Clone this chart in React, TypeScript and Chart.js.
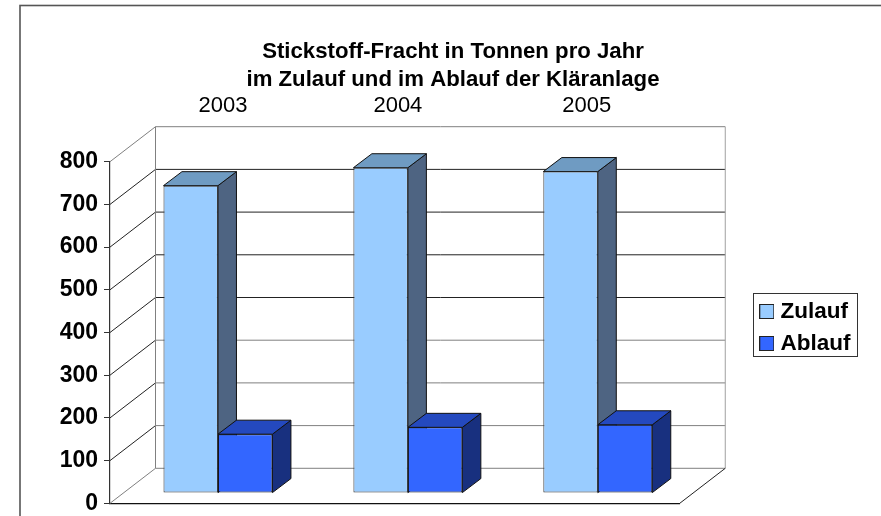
import React, { useEffect, useRef } from "react";
import { Chart, registerables } from "chart.js";

Chart.register(...registerables);

const titleLines = ["Stickstoff-Fracht in Tonnen pro Jahr", "im Zulauf und im Ablauf der Kläranlage"];
const years = ["2003", "2004", "2005"];
const zulauf = [720, 762, 753];
const ablauf = [138, 154, 160];
const yearNudge = [18, 3, 2];

const FONT = "'Liberation Sans', Arial, sans-serif";
const WALL = { dx: 45.5, dy: -35 };
const BAR_DEPTH = { dx: 18.5, dy: -14 };
const BAR_SHIFT = { dx: 13, dy: -10.2 };

const faceColors = [
  { top: "#6F9BC2", side: "#4E6482" },
  { top: "#2449BF", side: "#18307F" },
];

function swatch(color: string) {
  const c = document.createElement("canvas");
  c.width = 15;
  c.height = 15;
  const g = c.getContext("2d")!;
  g.fillStyle = color;
  g.fillRect(0.5, 0.5, 14, 14);
  g.strokeStyle = "#222";
  g.lineWidth = 1;
  g.strokeRect(0.5, 0.5, 14, 14);
  return c;
}

function line(ctx: CanvasRenderingContext2D, x1: number, y1: number, x2: number, y2: number, color: string) {
  ctx.strokeStyle = color;
  ctx.lineWidth = 1;
  ctx.beginPath();
  ctx.moveTo(x1, y1);
  ctx.lineTo(x2, y2);
  ctx.stroke();
}

function poly(ctx: CanvasRenderingContext2D, pts: number[][], fill: string) {
  ctx.fillStyle = fill;
  ctx.strokeStyle = "#111";
  ctx.lineWidth = 1;
  ctx.beginPath();
  pts.forEach((p, i) => (i ? ctx.lineTo(p[0], p[1]) : ctx.moveTo(p[0], p[1])));
  ctx.closePath();
  ctx.fill();
  ctx.stroke();
}

const scene3d = {
  id: "scene3d",
  afterLayout(chart: any) {
    const lg = chart.legend;
    lg.top -= 5;
    lg.bottom -= 5;
  },
  beforeDraw(chart: any) {
    const { ctx, width, height } = chart;
    ctx.save();
    ctx.fillStyle = "#fff";
    ctx.fillRect(0, 0, width, height);
    ctx.strokeStyle = "#555";
    ctx.lineWidth = 1.6;
    ctx.strokeRect(20, 5.5, width + 40, height + 40);
    ctx.restore();
  },
  beforeDatasetsDraw(chart: any) {
    const { ctx, chartArea: a, scales } = chart;
    const yS = scales.y;
    ctx.save();
    yS.ticks.forEach((t: any) => {
      const y = yS.getPixelForValue(t.value);
      const dark = t.value > 0 && t.value < 800;
      line(ctx, a.left, y, a.left + WALL.dx, y + WALL.dy, dark ? "#222" : "#808080");
      line(ctx, a.left + WALL.dx, y + WALL.dy, a.right + WALL.dx, y + WALL.dy, t.value >= 400 && t.value < 800 ? "#222" : "#808080");
    });
    line(ctx, a.left + WALL.dx, a.top + WALL.dy, a.left + WALL.dx, a.bottom + WALL.dy, "#808080");
    line(ctx, a.right + WALL.dx, a.top + WALL.dy, a.right + WALL.dx, a.bottom + WALL.dy, "#a0a0a0");
    line(ctx, a.right, a.bottom, a.right + WALL.dx, a.bottom + WALL.dy, "#222");

    ctx.translate(BAR_SHIFT.dx, BAR_SHIFT.dy);
    [0, 1].forEach((di) => {
      chart.getDatasetMeta(di).data.forEach((bar: any) => {
        const { x, y, base, width } = bar.getProps(["x", "y", "base", "width"], true);
        const l = x - width / 2;
        const r = x + width / 2;
        const d = BAR_DEPTH;
        poly(ctx, [[r, y], [r + d.dx, y + d.dy], [r + d.dx, base + d.dy], [r, base]], faceColors[di].side);
        poly(ctx, [[l, y], [l + d.dx, y + d.dy], [r + d.dx, y + d.dy], [r, y]], faceColors[di].top);
      });
    });
    ctx.restore();
    // the bar fronts stand on the same mid-depth plane
    ctx.save();
    ctx.translate(BAR_SHIFT.dx, BAR_SHIFT.dy);
  },
  afterDatasetsDraw(chart: any) {
    const { ctx, scales } = chart;
    ctx.restore();
    ctx.save();
    ctx.fillStyle = "#000";
    ctx.font = `22px ${FONT}`;
    ctx.textAlign = "center";
    ctx.textBaseline = "middle";
    years.forEach((label, i) => {
      ctx.fillText(label, scales.x.getPixelForValue(i) + yearNudge[i], 106);
    });
    ctx.restore();
  },
  afterDraw(chart: any) {
    const { ctx, legend: lg } = chart;
    const mid = (lg.top + lg.bottom) / 2;
    ctx.save();
    ctx.strokeStyle = "#333";
    ctx.lineWidth = 1;
    ctx.strokeRect(753.5, Math.round(mid - 34.5) + 0.5, 104, 63);
    ctx.restore();
  },
};

export default function App() {
  const ref = useRef<HTMLCanvasElement>(null);
  useEffect(() => {
    const chart = new Chart(ref.current!, {
      type: "bar",
      data: {
        labels: years,
        datasets: [
          { label: "Zulauf", data: zulauf, backgroundColor: "#99CCFF", borderColor: "#333", borderWidth: 1, borderSkipped: false, clip: false as any },
          { label: "Ablauf", data: ablauf, backgroundColor: "#3366FF", borderColor: "#111", borderWidth: 1, borderSkipped: false, clip: false as any },
        ],
      },
      options: {
        responsive: false,
        animation: false,
        events: [],
        layout: { padding: { left: 45.5, right: 20.5, top: 0, bottom: 12.7 } },
        datasets: { bar: { categoryPercentage: 109 / 190, barPercentage: 1 } },
        scales: {
          x: {
            grid: { display: false },
            border: { color: "#111", width: 1.2 },
            ticks: { display: false },
            afterFit: (s: any) => { s.height = 0; },
          },
          y: {
            min: 0,
            max: 800,
            ticks: { stepSize: 100, color: "#000", padding: 6, font: { family: FONT, size: 23, weight: "bold" } },
            grid: { drawOnChartArea: false, tickLength: 6, color: "#333" },
            border: { color: "#333", width: 1.2 },
            afterFit: (s: any) => { s.width = 64.5; s.paddingBottom = 0; s.paddingTop = 0; },
          },
          gap: {
            type: "linear",
            position: "right",
            grid: { display: false },
            border: { display: false },
            ticks: { display: false },
            afterFit: (s: any) => { s.width = 75; s.paddingBottom = 0; s.paddingTop = 0; },
          },
        },
        plugins: {
          title: {
            display: true,
            text: titleLines,
            color: "#000",
            font: { family: FONT, size: 22.2, weight: "bold", lineHeight: 28 / 22.2 },
            padding: { top: 38, bottom: 67.7 },
          },
          legend: {
            position: "right",
            fullSize: false,
            labels: {
              color: "#000",
              font: { family: FONT, size: 22.5, weight: "bold", lineHeight: 1 },
              padding: 9.5,
              usePointStyle: true,
              pointStyleWidth: 5,
              boxHeight: 14,
              generateLabels: (c: any) =>
                c.data.datasets.map((ds: any, i: number) => ({
                  text: ds.label,
                  datasetIndex: i,
                  fontColor: "#000",
                  pointStyle: swatch(ds.backgroundColor),
                  hidden: false,
                })),
            },
          },
          tooltip: { enabled: false },
        },
      },
      plugins: [scene3d],
    } as any);
    return () => chart.destroy();
  }, []);
  return (
    <div style={{ position: "fixed", left: 0, top: 0, width: 881, height: 516, overflow: "hidden", background: "#fff" }}>
      <canvas ref={ref} width={881} height={516} style={{ display: "block" }} />
    </div>
  );
}
